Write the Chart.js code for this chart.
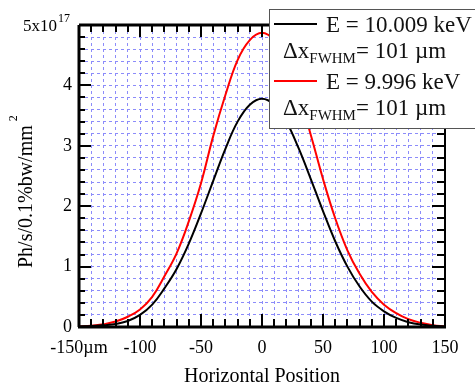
<!DOCTYPE html>
<html>
<head>
<meta charset="utf-8">
<script src="https://cdn.jsdelivr.net/npm/chart.js@4.4.0/dist/chart.umd.min.js"></script>
<style>
html, body { margin: 0; padding: 0; background: #fff; }
#wrap { width: 475px; height: 386px; }
</style>
</head>
<body>
<div id="wrap"><canvas id="profile-chart" width="475" height="386"></canvas></div>
<script>
// horizontal position in µm
const positions = [-150, -140, -130, -120, -110, -100, -90, -80, -70, -60, -50, -40, -30, -20, -10,
    0, 10, 20, 30, 40, 50, 60, 70, 80, 90, 100, 110, 120, 130, 140, 150];

// flux in units of 1e17 Ph/s/0.1%bw/mm^2
const blackValues = [0.01, 0.015, 0.03, 0.05, 0.10, 0.20, 0.37, 0.64, 0.96, 1.38, 1.88, 2.42, 2.95, 3.40, 3.68,
    3.78, 3.68, 3.40, 2.96, 2.45, 1.92, 1.42, 1.00, 0.67, 0.42, 0.26, 0.15, 0.08, 0.04, 0.02, 0.01];
const redValues = [0.01, 0.02, 0.045, 0.09, 0.17, 0.29, 0.50, 0.84, 1.22, 1.75, 2.38, 3.16, 3.84, 4.42, 4.75,
    4.87, 4.75, 4.42, 3.85, 3.18, 2.45, 1.80, 1.27, 0.88, 0.58, 0.37, 0.23, 0.13, 0.07, 0.03, 0.01];

const xLabelValues = [-150, -100, -50, 0, 50, 100, 150];
const yLabelValues = [0, 1, 2, 3, 4];
const legendLabels = ['E = 10.009 keV', 'E = 9.996 keV'];
const legendColors = ['#000000', '#ff0000'];
const fwhmText = '= 101 µm';

const serif = "'Liberation Serif', 'Times New Roman', serif";
const gridColor = 'rgb(140,140,250)';

const ctx = document.getElementById('profile-chart');

const toPoints = vals => positions.map((p, i) => ({x: p, y: vals[i]}));

const frameTicks = {
    id: 'frameTicks',
    afterDatasetsDraw(chart) {
        const {ctx, chartArea: a, scales: {x, y}} = chart;
        ctx.save();
        ctx.strokeStyle = '#000';
        ctx.lineWidth = 2;
        ctx.beginPath();
        x.ticks.forEach(t => {
            const px = Math.round(x.getPixelForValue(t.value));
            const major = xLabelValues.includes(t.value);
            ctx.moveTo(px, a.bottom); ctx.lineTo(px, a.bottom - (major ? 13 : 8));
            ctx.moveTo(px, a.top); ctx.lineTo(px, a.top + (major ? 12 : 7));
        });
        y.ticks.forEach(t => {
            const py = Math.round(y.getPixelForValue(t.value));
            const major = Math.abs(t.value - Math.round(t.value)) < 1e-6;
            ctx.moveTo(a.left, py); ctx.lineTo(a.left + (major ? 12 : 6), py);
            ctx.moveTo(a.right, py); ctx.lineTo(a.right - (major ? 13 : 8), py);
        });
        ctx.stroke();

        // frame
        ctx.lineWidth = 3;
        ctx.beginPath();
        ctx.moveTo(a.left, a.top); ctx.lineTo(a.right, a.top);
        ctx.moveTo(a.left, a.top); ctx.lineTo(a.left, a.bottom);
        ctx.moveTo(a.left - 1, a.bottom); ctx.lineTo(a.right + 1, a.bottom);
        ctx.stroke();
        ctx.lineWidth = 2;
        ctx.beginPath();
        ctx.moveTo(a.right, a.top); ctx.lineTo(a.right, a.bottom);
        ctx.stroke();
        ctx.restore();
    },
    afterDraw(chart) {
        const {ctx, scales: {y}} = chart;
        ctx.save();
        ctx.fillStyle = '#000';
        ctx.textBaseline = 'alphabetic';

        // 5x10^17 at the top of the y axis
        const y5 = y.getPixelForValue(5);
        ctx.font = '17px ' + serif;
        ctx.textAlign = 'left';
        ctx.fillText('5x10', 23, y5 + 6);
        const w5 = ctx.measureText('5x10').width;
        ctx.font = '12px ' + serif;
        ctx.fillText('17', 23 + w5 + 1, y5 - 3);

        // rotated y title
        ctx.save();
        ctx.translate(32, 268);
        ctx.rotate(-Math.PI / 2);
        ctx.font = '20px ' + serif;
        ctx.fillText('Ph/s/0.1%bw/mm', 0, 0);
        const wt = ctx.measureText('Ph/s/0.1%bw/mm').width;
        ctx.font = '12px ' + serif;
        ctx.fillText('2', wt + 4, -15);
        ctx.restore();

        // legend box
        ctx.fillStyle = '#fff';
        ctx.fillRect(269, 9, 215, 120);
        ctx.strokeStyle = '#555';
        ctx.lineWidth = 1;
        ctx.strokeRect(269.5, 9.5, 215, 119);

        const rows = [24, 81];
        legendLabels.forEach((lab, i) => {
            const ly = rows[i];
            ctx.strokeStyle = legendColors[i];
            ctx.lineWidth = 2;
            ctx.beginPath();
            ctx.moveTo(274, ly); ctx.lineTo(317, ly);
            ctx.stroke();
            ctx.fillStyle = '#111';
            ctx.font = '23px ' + serif;
            ctx.fillText(lab, 326, ly + 8);
            const by = ly + 34;
            let bx = 283;
            ctx.fillText('Δx', bx, by);
            bx += ctx.measureText('Δx').width;
            ctx.font = '15px ' + serif;
            ctx.fillText('FWHM', bx, by + 5);
            bx += ctx.measureText('FWHM').width;
            ctx.font = '23px ' + serif;
            ctx.fillText(fwhmText, bx, by);
        });
        ctx.restore();
    }
};

new Chart(ctx, {
    type: 'line',
    data: {
        datasets: [
            {
                label: legendLabels[0],
                data: toPoints(blackValues),
                borderColor: legendColors[0],
                borderWidth: 2,
                pointRadius: 0,
                tension: 0.4
            },
            {
                label: legendLabels[1],
                data: toPoints(redValues),
                borderColor: legendColors[1],
                borderWidth: 2,
                pointRadius: 0,
                tension: 0.4
            }
        ]
    },
    options: {
        responsive: false,
        animation: false,
        layout: {padding: {left: 0, top: 25, right: 30, bottom: 0}},
        plugins: {legend: {display: false}, tooltip: {enabled: false}},
        scales: {
            x: {
                type: 'linear',
                min: -150,
                max: 150,
                afterFit(s) { s.height = 59; },
                ticks: {
                    stepSize: 10,
                    autoSkip: false,
                    maxRotation: 0,
                    padding: 10,
                    color: '#000',
                    font: {family: serif, size: 18},
                    callback: v => {
                        if (!xLabelValues.includes(v)) return '';
                        return v === -150 ? '-150µm' : String(v);
                    }
                },
                grid: {color: gridColor, lineWidth: 1, drawTicks: false},
                border: {display: false, dash: [3, 3]},
                title: {
                    display: true,
                    text: 'Horizontal Position',
                    color: '#000',
                    font: {family: serif, size: 20, lineHeight: 0.9},
                    padding: {top: 0, bottom: 0}
                }
            },
            y: {
                min: 0,
                max: 5,
                afterFit(s) { s.width = 79; },
                ticks: {
                    stepSize: 0.2,
                    autoSkip: false,
                    padding: 7,
                    color: '#000',
                    font: {family: serif, size: 18},
                    callback: v => {
                        const r = Math.round(v);
                        if (Math.abs(v - r) > 1e-6 || !yLabelValues.includes(r)) return '';
                        return String(r);
                    }
                },
                grid: {color: gridColor, lineWidth: 1, drawTicks: false},
                border: {display: false, dash: [3, 3]}
            }
        }
    },
    plugins: [frameTicks]
});
</script>
</body>
</html>
